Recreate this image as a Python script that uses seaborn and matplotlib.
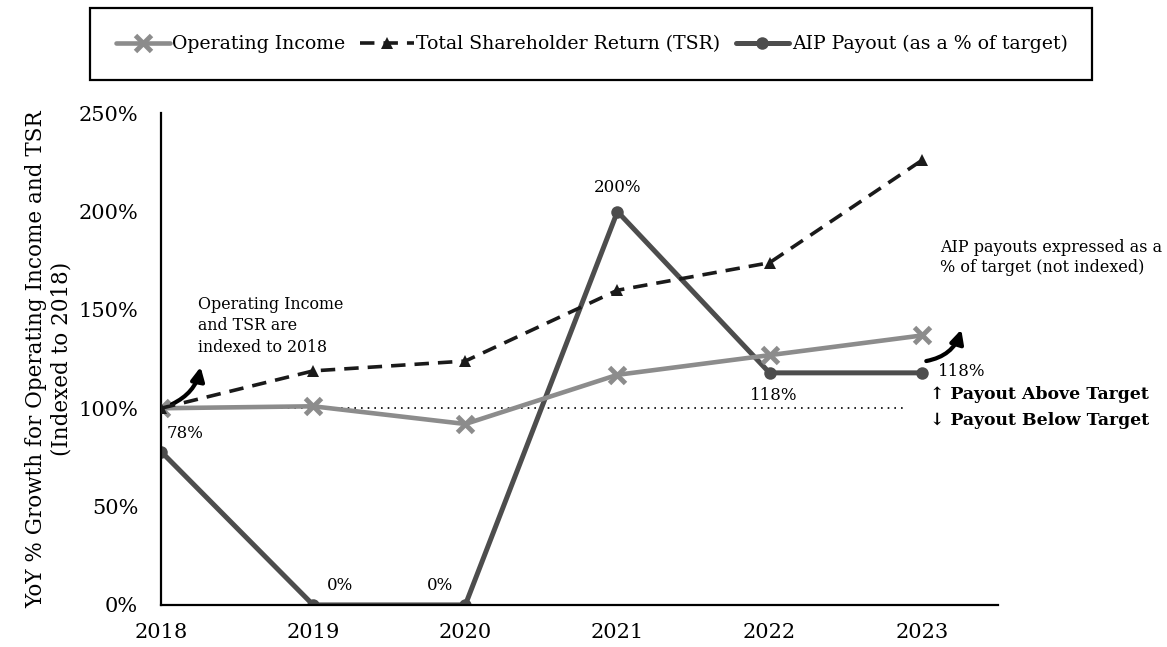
import matplotlib
matplotlib.use("Agg")
import matplotlib.pyplot as plt
import seaborn as sns
import numpy as np
from matplotlib.ticker import PercentFormatter
from matplotlib.patches import Rectangle

years = [2018, 2019, 2020, 2021, 2022, 2023]
operating_income = [100, 101, 92, 117, 127, 137]
tsr = [100, 119, 124, 160, 174, 226]
aip_payout = [78, 0, 0, 200, 118, 118]
aip_labels = ["78%", "0%", "0%", "200%", "118%", "118%"]

sns.set_theme(style="white")
plt.rcParams['font.family'] = ['DejaVu Serif', 'DejaVu Sans']
plt.rcParams['text.color'] = 'black'
plt.rcParams['axes.labelcolor'] = 'black'

fig = plt.figure(figsize=(11.67, 6.47), dpi=100)
ax = fig.add_axes([0.138, 0.065, 0.717, 0.76])

# reference line at 100%
ax.plot([2018, 2022.88], [100, 100], color="black", linestyle=(0, (1, 3)), lw=1.2, zorder=1)

gray = "#8c8c8c"
sns.lineplot(x=years, y=operating_income, ax=ax, color=gray, lw=3.3, marker="x",
             markersize=11, markeredgewidth=3.5, markeredgecolor=gray,
             label="Operating Income", zorder=3)
sns.lineplot(x=years, y=tsr, ax=ax, color="#1a1a1a", lw=2.6, linestyle=(0, (4, 2.5)), marker="^",
             markersize=9, markeredgewidth=0, label="Total Shareholder Return (TSR)", zorder=4)
sns.lineplot(x=years, y=aip_payout, ax=ax, color="#4d4d4d", lw=3.6, marker="o",
             markersize=9, markeredgewidth=0, label="AIP Payout (as a % of target)", zorder=2)

# data labels for AIP payout
offsets = [(17, 13), (19, 14), (-18, 14), (0, 17), (3, -16), (12, 1)]
aligns = ["center", "center", "center", "center", "center", "left"]
for x, y, lab, off, ha in zip(years, aip_payout, aip_labels, offsets, aligns):
    ax.annotate(lab, (x, y), xytext=off, textcoords="offset points", ha=ha, va="center", fontsize=12)

# notes
ax.text(2018.24, 157, "Operating Income\nand TSR are\nindexed to 2018", fontsize=11.4, va="top", ha="left",
        linespacing=1.33)
ax.text(2023.12, 186, "AIP payouts expressed as a\n% of target (not indexed)", fontsize=11.5, va="top",
        ha="left", linespacing=1.25)
ax.annotate("", xy=(2018.26, 121), xytext=(2018.07, 102),
            arrowprops=dict(arrowstyle="-|>", color="black", lw=3, mutation_scale=20,
                            connectionstyle="arc3,rad=0.25", shrinkA=0, shrinkB=0))
ax.annotate("", xy=(2023.26, 140), xytext=(2023.03, 124),
            arrowprops=dict(arrowstyle="-|>", color="black", lw=3, mutation_scale=20,
                            connectionstyle="arc3,rad=0.3", shrinkA=0, shrinkB=0))
ax.text(2023.055, 107, "\u2191 Payout Above Target", fontsize=12.4, fontweight="bold", va="center", ha="left")
ax.text(2023.055, 94, "\u2193 Payout Below Target", fontsize=12.4, fontweight="bold", va="center", ha="left")

ax.set_xlim(2018, 2023.5)
ax.set_ylim(0, 250)
ax.set_xticks(years)
ax.set_yticks(np.arange(0, 251, 50))
ax.yaxis.set_major_formatter(PercentFormatter(100, decimals=0))
ax.tick_params(axis="x", labelsize=15, direction="inout", length=9.5, width=1.3, colors="black", pad=8)
ax.tick_params(axis="y", labelsize=15, direction="out", length=4.5, width=1.3, colors="black", pad=12)
ax.set_ylabel("YoY % Growth for Operating Income and TSR\n(Indexed to 2018)", fontsize=15.5, labelpad=4)
for s in ["top", "right"]:
    ax.spines[s].set_visible(False)
for s in ["left", "bottom"]:
    ax.spines[s].set_color("black")
    ax.spines[s].set_linewidth(1.6)

# legend in a box at the top
handles, labels = ax.get_legend_handles_labels()
ax.get_legend().remove()
fig.legend(handles, labels, loc="center", bbox_to_anchor=(0.507, 0.932), ncol=3, frameon=False,
           fontsize=13.6, handlelength=2.85, handletextpad=0.12, columnspacing=0.8)
fig.patches.append(Rectangle((90 / 1167, 1 - 80 / 647), 1002 / 1167, 72 / 647, transform=fig.transFigure,
                             fill=False, ec="black", lw=1.6))

fig.savefig("out.png", dpi=100)
